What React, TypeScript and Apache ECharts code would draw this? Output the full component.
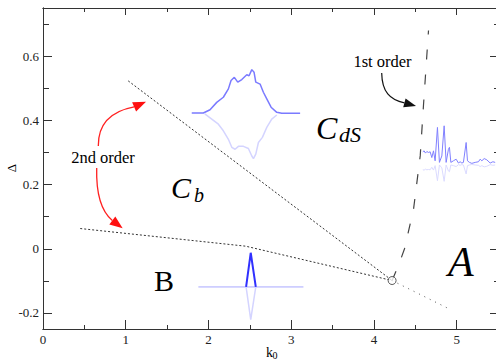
import React, { useEffect, useRef } from "react";
import * as echarts from "echarts";

const FONT = "Liberation Serif";

// axis ticks
const xMajor = [0, 1, 2, 3, 4, 5];
const xMinor = [0.5, 1.5, 2.5, 3.5, 4.5, 5.5];
const yMajor = [-0.2, 0, 0.2, 0.4, 0.6];
const yMinor = [-0.1, 0.1, 0.3, 0.5, 0.7];

// phase boundaries
const cdsBoundary = [[1.03, 0.523], [4.22, -0.099]];
const bBoundary = [[0.45, 0.063], [2.45, 0.008], [4.22, -0.099]];
const firstOrderLine = [[4.22, -0.099], [4.3, -0.05], [4.37, 0.0], [4.48, 0.125], [4.56, 0.29], [4.6, 0.45], [4.66, 0.68]];
const extensionLine = [[4.22, -0.099], [4.93, -0.19]];
const tricritical = [[4.22, -0.099]];

// inset profiles (C_dS)
const cdsWaveX = [1.798, 1.938, 2.019, 2.100, 2.180, 2.241, 2.273, 2.313, 2.354, 2.403, 2.463, 2.491, 2.524, 2.551, 2.572, 2.624, 2.664, 2.705, 2.757, 2.826, 2.886, 3.108];
const cdsWaveUp = [0.423, 0.423, 0.433, 0.456, 0.472, 0.498, 0.524, 0.534, 0.519, 0.527, 0.542, 0.539, 0.558, 0.550, 0.519, 0.513, 0.4875, 0.467, 0.441, 0.425, 0.422, 0.422];
const cdsWaveLowX = [1.956, 2.040, 2.120, 2.180, 2.241, 2.282, 2.322, 2.362, 2.423, 2.483, 2.524, 2.544, 2.572, 2.604, 2.652, 2.705, 2.765, 2.826];
const cdsWaveLow = [0.42, 0.404, 0.388, 0.3675, 0.341, 0.316, 0.31, 0.319, 0.319, 0.3125, 0.289, 0.281, 0.295, 0.331, 0.347, 0.378, 0.404, 0.4166];

// inset profile (B)
const bBaseX = [1.878, 3.148];
const bBaseY = [-0.119, -0.119];
const bSpikeX = [2.455, 2.511, 2.572];
const bSpikeUp = [-0.119, -0.0125, -0.119];
const bSpikeLow = [-0.119, -0.221, -0.119];

// inset profile (A)
const aWaveX = [4.591, 4.607, 4.623, 4.640, 4.659, 4.680, 4.700, 4.720, 4.740, 4.768, 4.792, 4.821, 4.849, 4.873, 4.901, 4.913, 4.930, 4.961, 4.994, 5.022, 5.042, 5.063, 5.082, 5.115, 5.131, 5.155, 5.184, 5.224, 5.264, 5.284, 5.305, 5.333, 5.365, 5.405, 5.438, 5.466];
const aWaveUp = [0.302, 0.305, 0.298, 0.303, 0.300, 0.302, 0.284, 0.305, 0.274, 0.378, 0.269, 0.289, 0.383, 0.269, 0.310, 0.316, 0.269, 0.274, 0.279, 0.267, 0.271, 0.267, 0.269, 0.331, 0.274, 0.269, 0.266, 0.269, 0.271, 0.279, 0.274, 0.281, 0.277, 0.267, 0.271, 0.269];
const aWaveLow = [0.246, 0.245, 0.248, 0.246, 0.247, 0.246, 0.254, 0.245, 0.259, 0.212, 0.261, 0.252, 0.210, 0.261, 0.242, 0.240, 0.261, 0.259, 0.256, 0.262, 0.260, 0.262, 0.261, 0.233, 0.259, 0.261, 0.2625, 0.261, 0.260, 0.256, 0.259, 0.255, 0.257, 0.262, 0.260, 0.261];

const zip = (xs: number[], ys: number[]) => xs.map((x, i) => [x, ys[i]]);

const AX = "#333";

function xAxisDef(position: string, ticks: number[], len: number, labels: boolean) {
  return {
    type: "value",
    position,
    min: 0,
    max: 5.5,
    splitLine: { show: false },
    axisLine: { show: true, onZero: false, lineStyle: { color: AX, width: 1 } },
    axisTick: { show: true, inside: true, length: len, customValues: ticks, lineStyle: { color: AX, width: 1 } },
    axisLabel: labels
      ? { show: true, customValues: xMajor, margin: 4, fontSize: 13, fontFamily: FONT, color: "#222" }
      : { show: false },
  };
}

function yAxisDef(position: string, ticks: number[], len: number, labels: boolean) {
  return {
    type: "value",
    position,
    min: -0.25,
    max: 0.75,
    splitLine: { show: false },
    axisLine: { show: true, onZero: false, lineStyle: { color: AX, width: 1 } },
    axisTick: { show: true, inside: true, length: len, customValues: ticks, lineStyle: { color: AX, width: 1 } },
    axisLabel: labels
      ? { show: true, customValues: yMajor, margin: 4, fontSize: 13, fontFamily: FONT, color: "#222" }
      : { show: false },
  };
}

function textEl(text: string, x: number, y: number, size: number, italic = false, align = "left", rotation = 0) {
  return {
    type: "text",
    x,
    y,
    rotation,
    z: 50,
    style: {
      text,
      fontSize: size,
      fontFamily: FONT,
      fontStyle: italic ? "italic" : "normal",
      fill: "#000",
      align,
      verticalAlign: "middle",
    },
  };
}

function lineSeries(data: number[][], color: string, width: number, type: any = "solid", z = 3) {
  return {
    type: "line",
    data,
    xAxisIndex: 0,
    yAxisIndex: 0,
    showSymbol: false,
    symbol: "none",
    silent: true,
    z,
    lineStyle: { color, width, type },
  };
}

export default function App() {
  const ref = useRef<HTMLDivElement>(null);
  useEffect(() => {
    if (!ref.current) return;
    const chart = echarts.init(ref.current, null, { renderer: "svg" });
    chart.setOption({
      animation: false,
      backgroundColor: "#fff",
      grid: { left: 43, right: -2, top: 8, bottom: 32, containLabel: false, outerBoundsMode: "none" },
      xAxis: [
        xAxisDef("bottom", xMajor, 9, true),
        xAxisDef("bottom", xMinor, 4, false),
        xAxisDef("top", xMajor, 7, false),
        xAxisDef("top", xMinor, 4, false),
      ],
      yAxis: [
        yAxisDef("left", yMajor, 9, true),
        yAxisDef("left", yMinor, 6, false),
        yAxisDef("right", yMajor, 8, false),
        yAxisDef("right", yMinor, 4, false),
      ],
      series: [
        lineSeries(zip(cdsWaveLowX, cdsWaveLow), "#d4d4ff", 1.5, "solid", 2),
        lineSeries(zip(cdsWaveX, cdsWaveUp), "#7a7aff", 1.5, "solid", 2),
        lineSeries(zip(bBaseX, bBaseY), "#a8a8ff", 1, "solid", 2),
        lineSeries(zip(bSpikeX, bSpikeLow), "#d4d4ff", 1.5, "solid", 2),
        lineSeries(zip(bSpikeX, bSpikeUp), "#3030ff", 2, "solid", 2),
        lineSeries(zip(aWaveX, aWaveLow), "#dadaff", 1, "solid", 2),
        lineSeries(zip(aWaveX, aWaveUp), "#8080ff", 1, "solid", 2),
        lineSeries(cdsBoundary, "#333", 1, [2, 2]),
        lineSeries(bBoundary, "#333", 1, [2, 2]),
        lineSeries(firstOrderLine, "#444", 1.2, [10, 15]),
        lineSeries(extensionLine, "#555", 1, [1, 5]),
        {
          type: "scatter",
          data: tricritical,
          symbol: "circle",
          symbolSize: 8,
          z: 5,
          silent: true,
          itemStyle: { color: "#fff", borderColor: "#333", borderWidth: 1 },
        },
      ],
      graphic: {
        elements: [
          textEl("Δ", 11, 168, 13, false, "center", Math.PI / 2),
          textEl("2nd order", 103, 157.5, 16.5, false, "center"),
          textEl("1st order", 382.5, 61, 16.5, false, "center"),
          textEl("C", 316, 127.5, 32, true),
          textEl("dS", 339, 134, 22, true),
          textEl("C", 171, 187.5, 30, true),
          textEl("b", 194, 194.5, 20, true),
          textEl("B", 154, 280, 30, false),
          textEl("A", 448, 262, 42, true),
          textEl("k", 266, 352, 14, false),
          textEl("0", 272.5, 355.5, 10, false),
          {
            type: "bezierCurve",
            z: 40,
            shape: { x1: 98.3, y1: 146, cpx1: 98, cpy1: 122, cpx2: 112, cpy2: 111, x2: 134.1, y2: 106.8 },
            style: { stroke: "#ff2020", lineWidth: 1.3, fill: null },
          },
          {
            type: "polygon",
            z: 40,
            shape: { points: [[146, 101.7], [136.1, 111.4], [132.1, 102.2]] },
            style: { fill: "#ff1010" },
          },
          {
            type: "bezierCurve",
            z: 40,
            shape: { x1: 96.7, y1: 168, cpx1: 96, cpy1: 195, cpx2: 101, cpy2: 211, x2: 112.3, y2: 220.5 },
            style: { stroke: "#ff2020", lineWidth: 1.3, fill: null },
          },
          {
            type: "polygon",
            z: 40,
            shape: { points: [[122.7, 228.3], [109.3, 224.5], [115.3, 216.5]] },
            style: { fill: "#ff1010" },
          },
          {
            type: "bezierCurve",
            z: 40,
            shape: { x1: 381.7, y1: 73, cpx1: 382, cpy1: 92, cpx2: 390, cpy2: 100, x2: 404.4, y2: 102.9 },
            style: { stroke: "#111", lineWidth: 1.2, fill: null },
          },
          {
            type: "polygon",
            z: 40,
            shape: { points: [[416, 106], [403.2, 107.3], [405.6, 98.5]] },
            style: { fill: "#111" },
          },
        ],
      },
    });
    return () => chart.dispose();
  }, []);
  return (
    <div
      ref={ref}
      style={{ position: "fixed", left: 0, top: 0, width: 496, height: 361, background: "#fff" }}
    />
  );
}
